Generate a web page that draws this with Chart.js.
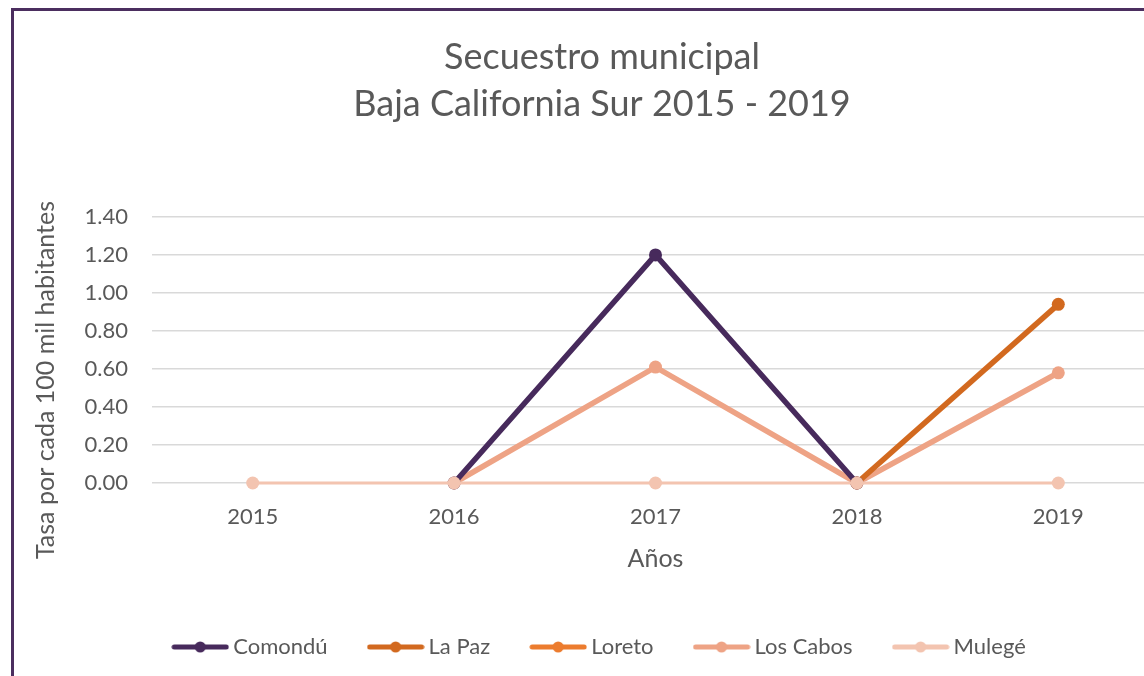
<!DOCTYPE html>
<html>
<head>
<meta charset="utf-8">
<script src="https://cdn.jsdelivr.net/npm/chart.js@4.4.1/dist/chart.umd.min.js"></script>
<style>
  html, body { margin: 0; padding: 0; background: #fff; overflow: hidden; }
  .frame {
    position: absolute; left: 11px; top: 8px; width: 1200px; height: 700px;
    border-left: 3px solid #4b2e5f; border-top: 3px solid #4b2e5f;
  }
  .wrap { position: absolute; left: 0; top: 0; width: 1194px; height: 676px; }
</style>
</head>
<body>
<div class="frame"></div>
<div class="wrap"><canvas id="chart"></canvas></div>
<script>
// ---- data ----
const years = ['2015', '2016', '2017', '2018', '2019'];
const comondu  = [null, 0, 1.20, 0, null];
const laPaz    = [null, null, null, 0, 0.94];
const loreto   = [null, null, null, null, null];
const losCabos = [null, 0, 0.61, 0, 0.58];
const mulege   = [0, 0, 0, 0, 0];

const seriesNames  = ['Comondú', 'La Paz', 'Loreto', 'Los Cabos', 'Mulegé'];
const seriesColors = ['#472a5c', '#d2691f', '#ec7c2e', '#eea385', '#f3c4b0'];
const yTicks = [0, 0.2, 0.4, 0.6, 0.8, 1.0, 1.2, 1.4];
const yTitle = 'Tasa por cada 100 mil habitantes';

const FONT = 'Lato, "Open Sans", sans-serif';
const GREY = '#595959';

// legend swatch: line with a dot in the middle
function swatch(color) {
  const c = document.createElement('canvas');
  c.width = 58; c.height = 14;
  const g = c.getContext('2d');
  g.strokeStyle = color;
  g.lineWidth = 5;
  g.lineCap = 'round';
  g.beginPath(); g.moveTo(3, 7); g.lineTo(55, 7); g.stroke();
  g.fillStyle = color;
  g.beginPath(); g.arc(29, 7, 5.5, 0, Math.PI * 2); g.fill();
  return c;
}

function makeSet(i, data, width) {
  return {
    label: seriesNames[i],
    data: data,
    borderColor: seriesColors[i],
    backgroundColor: seriesColors[i],
    borderWidth: width,
    pointRadius: 6.5,
    pointHoverRadius: 6.5,
    pointBorderWidth: 0,
    tension: 0,
    spanGaps: false,
    clip: false,
    order: i === 4 ? 0 : i + 1
  };
}

// y axis title sits lower than the plot centre in the original, so draw it by hand
const yTitlePlugin = {
  id: 'yTitle',
  afterDraw(chart) {
    const c = chart.ctx;
    c.save();
    c.translate(46, 380);
    c.rotate(-Math.PI / 2);
    c.font = `25px ${FONT}`;
    c.fillStyle = GREY;
    c.textAlign = 'center';
    c.textBaseline = 'middle';
    c.fillText(yTitle, 0, 0);
    c.restore();
  }
};

const ctx = document.getElementById('chart');
new Chart(ctx, {
  type: 'line',
  data: {
    labels: years,
    datasets: [
      makeSet(0, comondu, 5.5),
      makeSet(1, laPaz, 5.5),
      makeSet(2, loreto, 5.5),
      makeSet(3, losCabos, 5.5),
      makeSet(4, mulege, 3)
    ]
  },
  plugins: [yTitlePlugin],
  options: {
    responsive: true,
    maintainAspectRatio: false,
    animation: false,
    layout: { padding: { left: 45, right: 35, top: 0, bottom: 8 } },
    plugins: {
      title: {
        display: true,
        text: ['Secuestro municipal', 'Baja California Sur 2015 - 2019'],
        color: GREY,
        font: { family: FONT, size: 36, weight: 'normal', lineHeight: 1.305 },
        padding: { top: 34, bottom: 89 }
      },
      legend: {
        position: 'bottom',
        labels: {
          color: GREY,
          font: { family: FONT, size: 22 },
          usePointStyle: true,
          pointStyleWidth: 44,
          boxHeight: 14,
          padding: 46,
          sort: (a, b) => a.datasetIndex - b.datasetIndex,
          generateLabels: (chart) => chart.data.datasets.map((ds, i) => ({
            text: ds.label,
            datasetIndex: i,
            pointStyle: swatch(ds.borderColor),
            fillStyle: ds.borderColor,
            strokeStyle: ds.borderColor,
            lineWidth: 0,
            fontColor: GREY,
            hidden: false
          }))
        }
      },
      tooltip: { enabled: false }
    },
    scales: {
      x: {
        offset: true,
        afterFit: (axis) => { axis.height = 107; },
        grid: { display: false, drawTicks: false },
        border: { display: false },
        ticks: { color: GREY, font: { family: FONT, size: 22 }, padding: 21 },
        title: {
          display: true, text: 'Años', color: GREY,
          font: { family: FONT, size: 25 }, padding: { top: 0, bottom: 16 }
        }
      },
      y: {
        min: 0, max: 1.4,
        afterFit: (axis) => { axis.width = 107; },
        afterBuildTicks: (axis) => { axis.ticks = yTicks.map(v => ({ value: v })); },
        grid: { color: '#d9d9d9', lineWidth: 1.5, drawTicks: false },
        border: { display: false },
        ticks: {
          color: GREY, font: { family: FONT, size: 22 }, padding: 24,
          callback: (v) => Number(v).toFixed(2)
        }
      }
    }
  }
});
</script>
</body>
</html>
